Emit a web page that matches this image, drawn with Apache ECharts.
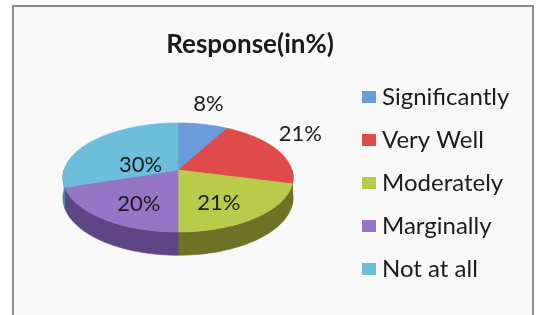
<!DOCTYPE html>
<html>
<head>
<meta charset="utf-8">
<script src="https://cdn.jsdelivr.net/npm/echarts@6/dist/echarts.min.js"></script>
<style>
  html, body { margin: 0; padding: 0; background: #fdfdfd; }
  #chart { width: 541px; height: 315px; }
</style>
</head>
<body>
<div id="chart"></div>
<script>
// data
const categories = ['Significantly', 'Very Well', 'Moderately', 'Marginally', 'Not at all'];
const responses = [8, 21, 21, 20, 30];

// looks
const topColors = ['#6b9bd8', '#df4b4a', '#b8cb4a', '#9576c6', '#6cbedb'];
const sideColors = ['#45689a', '#8f2f2d', '#6f7126', '#5d4586', '#3f8aa3'];
const labelPlaces = ['outside', 'outside', 'inside', 'inside', 'inside'];
const labelRadius = [1.25, 1.25, 0.55, 0.55, 0.42];
const FONT = 'Lato, "Open Sans", sans-serif';

// fake 3d pie geometry
const pie = { cx: 178, cy: 170, rx: 114, ry: 53.5, persp: 0.138, depth: 20 };

const total = responses.reduce((a, b) => a + b, 0);
const starts = [];
let acc = 0;
responses.forEach(v => { starts.push(acc / total * 360); acc += v; });

function proj(deg, f, dz) {
  const t = deg * Math.PI / 180;
  const u = Math.sin(t) * f, v = Math.cos(t) * f;
  const s = 1 / (1 + pie.persp * v);
  return [pie.cx + pie.rx * u * s, pie.cy - pie.ry * v * s + dz * s];
}

function arc(a0, a1, dz) {
  const pts = [];
  const n = Math.max(2, Math.ceil((a1 - a0) / 2));
  for (let k = 0; k <= n; k++) pts.push(proj(a0 + (a1 - a0) * k / n, 1, dz));
  return pts;
}

function makeRender(i) {
  return function (params, api) {
    const a0 = starts[i];
    const a1 = a0 + api.value(0) / total * 360;
    const children = [];

    // front wall (only the part facing us, 90..270 deg)
    const w0 = Math.max(a0, 90), w1 = Math.min(a1, 270);
    if (w1 > w0) {
      const topEdge = arc(w0, w1, 0);
      const botEdge = arc(w0, w1, pie.depth).reverse();
      children.push({
        type: 'polygon',
        shape: { points: topEdge.concat(botEdge) },
        style: { fill: sideColors[i], stroke: sideColors[i], lineWidth: 0.6 }
      });
    }

    // top face
    children.push({
      type: 'polygon',
      shape: { points: [proj(0, 0, 0)].concat(arc(a0, a1, 0)) },
      style: { fill: topColors[i], stroke: topColors[i], lineWidth: 0.6 }
    });

    // percent label
    const mid = (a0 + a1) / 2;
    const pos = proj(mid, labelRadius[i], labelPlaces[i] === 'outside' ? -12 : 8);
    children.push({
      type: 'text',
      x: pos[0], y: pos[1],
      silent: true,
      style: {
        text: Math.round(api.value(0) / total * 100) + '%',
        fill: '#1c1c1c',
        font: '22px ' + FONT,
        align: 'center',
        verticalAlign: 'middle'
      }
    });

    return { type: 'group', children: children };
  };
}

const chart = echarts.init(document.getElementById('chart'));
chart.setOption({
  animation: false,
  backgroundColor: '#fdfdfd',
  graphic: [{
    type: 'rect',
    z: -10,
    shape: { x: 13, y: 6, width: 520, height: 320 },
    style: { fill: '#f8f8f8', stroke: '#8c8c8c', lineWidth: 2 }
  }],
  title: {
    text: 'Response(in%)',
    left: 245, top: 27,
    textAlign: 'center',
    textStyle: { fontFamily: FONT, fontSize: 26, fontWeight: 'bold', color: '#1a1a1a' }
  },
  legend: {
    orient: 'vertical',
    left: 362, top: 85,
    padding: 0,
    itemWidth: 14, itemHeight: 12,
    itemGap: 19,
    icon: 'rect',
    data: categories,
    textStyle: { fontFamily: FONT, fontSize: 24, color: '#1c1c1c', lineHeight: 22, padding: [0, 0, 0, 1] }
  },
  series: categories.map((name, i) => ({
    type: 'custom',
    name: name,
    coordinateSystem: 'none',
    itemStyle: { color: topColors[i] },
    renderItem: makeRender(i),
    data: [responses[i]]
  }))
});
</script>
</body>
</html>
